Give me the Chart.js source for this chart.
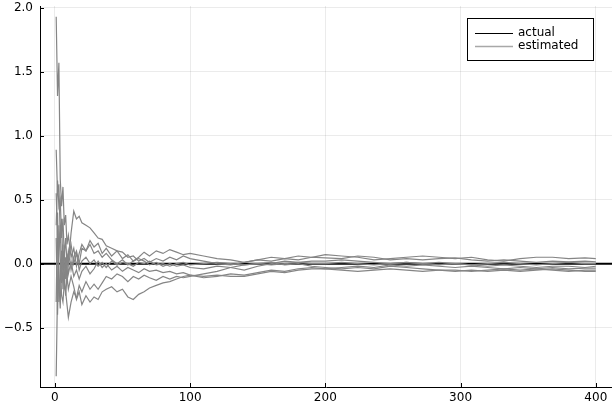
<!DOCTYPE html>
<html>
<head>
<meta charset="utf-8">
<script src="https://cdn.jsdelivr.net/npm/chart.js@4/dist/chart.umd.min.js"></script>
<style>
  html, body { margin: 0; padding: 0; background: #fff; }
  #wrap { width: 612px; height: 406px; position: relative; }
</style>
</head>
<body>
<div id="wrap"><canvas id="chart"></canvas></div>
<script>
// sample positions (iteration number) shared by every estimated series
const steps = [1,2,3,4,5,6,7,8,9,10, 12,14,16,18,20, 23,26,29,32,35,38,
  42,46,50,54,58,62,66,70, 75,80,85,90,95,100,
  110,120,130,140,150,160,170,180,190,200,
  212,224,236,248,260,272,284,296,308,320,332,344,356,368,380,392,400];

// estimated series
const est1 = [1.93,1.31,1.57,0.66,0.45,0.6,0.3,0.38,0.15,0.22, 0.05,0.12,-0.02,0.08,0.15,
  0.1,0.18,0.13,0.16,0.08,0.12, 0.06,0.1,0.04,0.07,0.02,0.05,0.09,0.06,
  0.1,0.08,0.11,0.09,0.07,0.08, 0.06,0.04,0.03,0.01,0.03,0.05,0.04,0.06,0.05,0.07,
  0.06,0.05,0.03,0.04,0.05,0.06,0.05,0.04,0.05,0.03,0.02,0.04,0.05,0.05,0.04,0.045,0.04];
const est2 = [0.89,0.55,0.62,0.2,0.35,-0.05,0.1,-0.12,0.05,0.0, 0.24,0.41,0.35,0.37,0.32,
  0.3,0.28,0.24,0.2,0.19,0.14, 0.12,0.1,0.09,0.05,0.06,0.02,0.04,0.01,
  0.04,0.02,0.05,0.03,0.06,0.04, 0.02,0.0,-0.01,0.01,0.03,0.02,0.04,0.03,0.05,0.045,
  0.04,0.06,0.05,0.03,0.04,0.03,0.04,0.045,0.03,0.02,0.03,0.02,0.01,0.02,0.015,0.02,0.015];
const est3 = [-0.88,-0.2,0.3,0.05,-0.15,0.1,-0.1,-0.25,-0.1,-0.2, -0.1,-0.18,-0.28,-0.22,-0.32,
  -0.25,-0.3,-0.26,-0.28,-0.22,-0.2, -0.18,-0.22,-0.2,-0.26,-0.28,-0.24,-0.22,-0.19,
  -0.17,-0.15,-0.14,-0.12,-0.1,-0.09, -0.1,-0.09,-0.1,-0.1,-0.08,-0.06,-0.07,-0.05,-0.04,-0.04,
  -0.05,-0.06,-0.05,-0.04,-0.05,-0.06,-0.05,-0.05,-0.06,-0.05,-0.04,-0.05,-0.04,-0.05,-0.06,-0.05,-0.05];
const est4 = [0.55,0.2,-0.3,0.0,-0.25,-0.3,-0.15,-0.22,-0.32,-0.42, -0.3,-0.22,-0.27,-0.17,-0.22,
  -0.14,-0.2,-0.16,-0.2,-0.15,-0.1, -0.12,-0.08,-0.1,-0.14,-0.1,-0.12,-0.09,-0.11,
  -0.13,-0.1,-0.12,-0.1,-0.11,-0.1, -0.08,-0.06,-0.03,-0.01,0.0,0.01,-0.01,0.0,-0.02,-0.03,
  -0.04,-0.03,-0.04,-0.02,-0.03,-0.04,-0.05,-0.06,-0.05,-0.06,-0.05,-0.06,-0.05,-0.04,-0.05,-0.06,-0.06];
const est5 = [0.3,0.65,0.45,0.5,0.2,0.35,0.05,0.2,0.0,0.1, -0.05,0.05,0.1,0.0,0.12,
  0.1,0.15,0.08,0.1,0.05,0.08, 0.03,0.0,0.03,-0.01,0.02,0.04,0.02,-0.01,
  0.01,-0.02,0.0,-0.02,-0.01,-0.03, -0.04,-0.02,-0.03,-0.05,-0.02,0.0,0.02,0.01,0.02,0.02,
  0.03,0.02,0.01,0.0,0.01,0.0,-0.01,0.0,-0.01,-0.02,-0.01,-0.02,-0.03,-0.02,-0.02,-0.03,-0.02];
const est6 = [-0.3,0.4,-0.15,-0.35,0.1,-0.2,0.0,-0.05,0.08,-0.08, 0.02,-0.1,-0.05,-0.12,-0.06,
  -0.02,-0.08,-0.04,0.02,-0.03,0.0, -0.05,-0.02,-0.06,-0.03,-0.05,-0.07,-0.04,-0.06,
  -0.05,-0.07,-0.06,-0.08,-0.07,-0.09, -0.11,-0.1,-0.08,-0.09,-0.07,-0.05,-0.06,-0.04,-0.03,-0.04,
  -0.03,-0.02,-0.03,-0.01,-0.02,-0.01,-0.02,-0.03,-0.02,-0.03,-0.04,-0.03,-0.04,-0.03,-0.04,-0.035,-0.035];
const est7 = [0.2,-0.4,0.1,0.25,0.0,0.15,-0.2,0.05,-0.15,0.05, 0.15,0.0,0.08,-0.05,0.02,
  0.05,0.0,0.03,-0.02,0.01,-0.03, 0.02,-0.01,0.01,0.0,-0.02,0.01,0.0,0.02,
  -0.01,0.0,-0.02,0.0,0.01,-0.01, 0.0,0.01,0.0,-0.01,0.0,-0.01,0.0,0.01,0.0,0.0,
  0.01,0.0,-0.01,0.0,0.01,0.0,0.01,0.0,-0.01,0.0,0.01,0.0,-0.01,0.0,0.01,0.0,0.0];
const estimated = [est1, est2, est3, est4, est5, est6, est7];

// the true value is a flat line
const actualValue = 0;

const xMin = -10.97, xMax = 411.97;
const yMin = -0.964, yMax = 2.014;
const xTicks = [0, 100, 200, 300, 400];
const yTicks = [-0.5, 0.0, 0.5, 1.0, 1.5, 2.0];

const legendLabels = ['actual', 'estimated'];
const actualColor = '#000000';
const estColor = '#858585';
const font = 'DejaVu Sans';

const datasets = estimated.map(s => ({
  label: 'estimated',
  data: steps.map((x, i) => ({ x: x, y: s[i] })),
  borderColor: estColor,
  borderWidth: 1.2,
  pointRadius: 0,
  tension: 0
}));
datasets.push({
  label: 'actual',
  data: [{ x: xMin, y: actualValue }, { x: xMax, y: actualValue }],
  borderColor: actualColor,
  borderWidth: 2,
  pointRadius: 0
});

// Julia-style inner ticks and boxed legend
const extras = {
  id: 'extras',
  afterDraw(chart) {
    const ctx = chart.ctx;
    const a = chart.chartArea;
    const xs = chart.scales.x, ys = chart.scales.y;
    ctx.save();
    ctx.strokeStyle = '#000';
    ctx.lineWidth = 1;
    ctx.beginPath();
    xTicks.forEach(v => {
      const px = Math.round(xs.getPixelForValue(v)) + 0.5;
      ctx.moveTo(px, a.bottom); ctx.lineTo(px, a.bottom - 4);
    });
    yTicks.forEach(v => {
      const py = Math.round(ys.getPixelForValue(v)) + 0.5;
      ctx.moveTo(a.left, py); ctx.lineTo(a.left + 4, py);
    });
    ctx.stroke();

    // legend box
    const bx = 467.5, by = 18.5, bw = 126, bh = 42;
    ctx.fillStyle = '#fff';
    ctx.fillRect(bx, by, bw, bh);
    ctx.strokeStyle = '#000';
    ctx.strokeRect(bx, by, bw, bh);
    const colors = [actualColor, '#a8a8a8'];
    ctx.font = '12px "' + font + '"';
    ctx.textBaseline = 'middle';
    legendLabels.forEach((lab, i) => {
      const ly = 33 + i * 13;
      ctx.strokeStyle = colors[i];
      ctx.lineWidth = i === 0 ? 1 : 1.5;
      ctx.beginPath();
      ctx.moveTo(475, ly + 0.5); ctx.lineTo(513, ly + 0.5);
      ctx.stroke();
      ctx.fillStyle = '#000';
      ctx.fillText(lab, 518, ly);
    });
    ctx.restore();
  }
};

new Chart(document.getElementById('chart'), {
  type: 'line',
  data: { datasets: datasets },
  options: {
    responsive: true,
    maintainAspectRatio: false,
    animation: false,
    devicePixelRatio: 1,
    layout: { padding: { top: 6, right: 0, left: 0, bottom: 0 } },
    plugins: { legend: { display: false }, tooltip: { enabled: false } },
    scales: {
      x: {
        type: 'linear',
        min: xMin, max: xMax,
        afterBuildTicks: s => { s.ticks = xTicks.map(v => ({ value: v })); },
        afterFit: s => { s.height = 19; s.paddingLeft = 0; s.paddingRight = 0; },
        grid: { color: 'rgba(0,0,0,0.08)', lineWidth: 1, drawTicks: false },
        border: { color: '#000', width: 1 },
        ticks: {
          padding: 4, color: '#000', maxRotation: 0,
          font: { family: font, size: 12 },
          callback: v => String(v)
        }
      },
      y: {
        min: yMin, max: yMax,
        afterBuildTicks: s => { s.ticks = yTicks.map(v => ({ value: v })); },
        afterFit: s => { s.width = 40; s.paddingTop = 0; s.paddingBottom = 0; },
        grid: { color: 'rgba(0,0,0,0.08)', lineWidth: 1, drawTicks: false },
        border: { color: '#000', width: 1 },
        ticks: {
          padding: 7, color: '#000',
          font: { family: font, size: 12 },
          callback: v => v.toFixed(1).replace('-', '\u2212')
        }
      }
    }
  },
  plugins: [extras]
});
</script>
</body>
</html>
